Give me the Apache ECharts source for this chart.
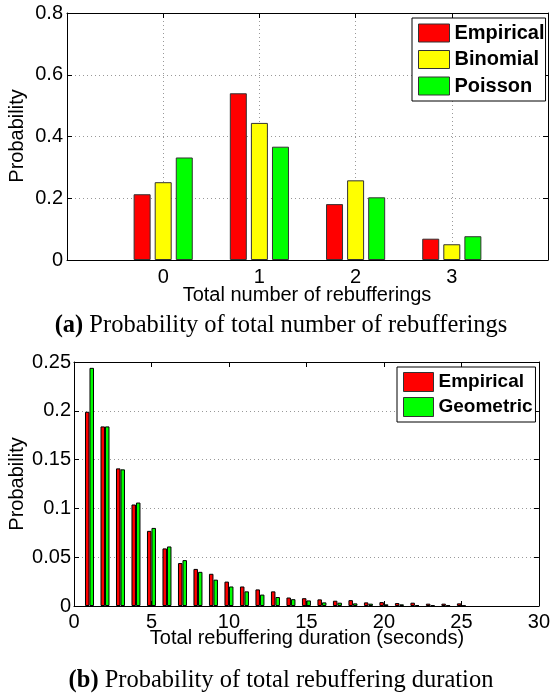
<!DOCTYPE html>
<html>
<head>
<meta charset="utf-8">
<script src="https://cdn.jsdelivr.net/npm/echarts@6/dist/echarts.min.js"></script>
<style>
  html, body { margin: 0; padding: 0; background: #fff; }
  #chart { width: 553px; height: 694px; }
</style>
</head>
<body>
<div id="chart"></div>
<script>
// (a) number of rebufferings
const rebufCounts = [0, 1, 2, 3];
const empiricalCount = [0.213, 0.540, 0.181, 0.069];
const binomialCount = [0.252, 0.444, 0.258, 0.051];
const poissonCount = [0.332, 0.367, 0.203, 0.077];

// (b) rebuffering duration (seconds)
const durSeconds = [1, 2, 3, 4, 5, 6, 7, 8, 9, 10, 11, 12, 13, 14, 15, 16, 17, 18, 19, 20, 21, 22, 23, 24, 25];
const empiricalDur = [0.199, 0.184, 0.141, 0.104, 0.077, 0.059, 0.044, 0.038, 0.033, 0.025, 0.020, 0.017, 0.015,
  0.0087, 0.008, 0.0068, 0.0054, 0.006, 0.0037, 0.004, 0.003, 0.0034, 0.0024, 0.0024, 0.0027];
const geometricDur = [0.244, 0.184, 0.140, 0.106, 0.080, 0.061, 0.047, 0.035, 0.027, 0.020, 0.015, 0.0117, 0.0092,
  0.007, 0.0057, 0.0037, 0.0034, 0.0027, 0.0024, 0.0017, 0.0017, 0.001, 0.0007, 0.0007, 0.0005];

const SANS = "'Liberation Sans', Arial, sans-serif";
const SERIF = "'Liberation Serif', 'Times New Roman', serif";
const RED = '#ff0000', YELLOW = '#ffff00', GREEN = '#00ff00';

const chart = echarts.init(document.getElementById('chart'), null, { renderer: 'canvas' });

const dotted = { color: '#999', width: 1, type: [1, 3] };
const box = { show: true, onZero: false, lineStyle: { color: '#000', width: 1 } };
const tickIn = { show: true, inside: true, length: 5, lineStyle: { color: '#000' } };
const tickLabel = { color: '#000', fontFamily: SANS, fontSize: 20 };

const pairs = (xs, ys) => xs.map((x, i) => [x, ys[i]]);

const option = {
  backgroundColor: '#fff',
  animation: false,
  grid: [
    { left: 67, top: 13, width: 481, height: 247, containLabel: false },
    { left: 74, top: 362, width: 466, height: 244, containLabel: false },
  ],
  xAxis: [
    {
      gridIndex: 0, type: 'value', min: -1, max: 4, interval: 1,
      axisLine: box, axisTick: tickIn,
      axisLabel: Object.assign({ margin: 7, formatter: v => (v < 0 || v > 3 ? '' : String(v)) }, tickLabel),
      splitLine: { show: true, lineStyle: dotted },
    },
    {
      gridIndex: 0, type: 'value', position: 'top', min: -1, max: 4, interval: 1,
      axisLine: box, axisTick: tickIn, axisLabel: { show: false }, splitLine: { show: false },
    },
    {
      gridIndex: 1, type: 'value', min: 0, max: 30, interval: 5,
      axisLine: box, axisTick: tickIn,
      axisLabel: Object.assign({ margin: 6 }, tickLabel),
      splitLine: { show: false },
    },
    {
      gridIndex: 1, type: 'value', position: 'top', min: 0, max: 30, interval: 5,
      axisLine: box, axisTick: tickIn, axisLabel: { show: false }, splitLine: { show: false },
    },
  ],
  yAxis: [
    {
      gridIndex: 0, type: 'value', min: 0, max: 0.8, interval: 0.2,
      axisLine: box, axisTick: tickIn,
      axisLabel: Object.assign({ margin: 4 }, tickLabel),
      splitLine: { show: true, lineStyle: dotted },
    },
    {
      gridIndex: 0, type: 'value', position: 'right', min: 0, max: 0.8, interval: 0.2,
      axisLine: box, axisTick: tickIn, axisLabel: { show: false }, splitLine: { show: false },
    },
    {
      gridIndex: 1, type: 'value', min: 0, max: 0.25, interval: 0.05,
      axisLine: box, axisTick: tickIn,
      axisLabel: Object.assign({ margin: 3 }, tickLabel),
      splitLine: { show: true, lineStyle: dotted },
    },
    {
      gridIndex: 1, type: 'value', position: 'right', min: 0, max: 0.25, interval: 0.05,
      axisLine: box, axisTick: tickIn, axisLabel: { show: false }, splitLine: { show: false },
    },
  ],
  legend: [
    {
      data: ['Empirical', 'Binomial', 'Poisson'],
      orient: 'vertical', left: 412, top: 18,
      padding: [5, 1, 5, 6], itemGap: 6.5, itemWidth: 31, itemHeight: 18,
      icon: 'rect', backgroundColor: '#fff', borderColor: '#000', borderWidth: 1, borderRadius: 0,
      itemStyle: { borderColor: '#333', borderWidth: 1 },
      textStyle: { color: '#000', fontFamily: SANS, fontSize: 20, fontWeight: 'bold', lineHeight: 18 },
      selectedMode: false,
    },
    {
      data: ['Empirical', 'Geometric'],
      orient: 'vertical', left: 397, top: 367,
      padding: [5, 3, 5, 6], itemGap: 5, itemWidth: 30, itemHeight: 19,
      icon: 'rect', backgroundColor: '#fff', borderColor: '#000', borderWidth: 1, borderRadius: 0,
      itemStyle: { borderColor: '#333', borderWidth: 1 },
      textStyle: { color: '#000', fontFamily: SANS, fontSize: 19, fontWeight: 'bold', lineHeight: 19 },
      selectedMode: false,
    },
  ],
  series: [
    {
      name: 'Empirical', type: 'bar', xAxisIndex: 0, yAxisIndex: 0,
      barWidth: 17, barGap: '24%',
      itemStyle: { color: RED, borderColor: '#333', borderWidth: 1 },
      data: pairs(rebufCounts, empiricalCount),
    },
    {
      name: 'Binomial', type: 'bar', xAxisIndex: 0, yAxisIndex: 0,
      barWidth: 17, barGap: '24%',
      itemStyle: { color: YELLOW, borderColor: '#333', borderWidth: 1 },
      data: pairs(rebufCounts, binomialCount),
    },
    {
      name: 'Poisson', type: 'bar', xAxisIndex: 0, yAxisIndex: 0,
      barWidth: 17, barGap: '24%',
      itemStyle: { color: GREEN, borderColor: '#333', borderWidth: 1 },
      data: pairs(rebufCounts, poissonCount),
    },
    {
      name: 'Empirical', type: 'bar', xAxisIndex: 2, yAxisIndex: 2,
      barWidth: 4.5, barGap: '0%',
      itemStyle: { color: RED, borderColor: '#000', borderWidth: 1 },
      data: pairs(durSeconds, empiricalDur),
    },
    {
      name: 'Geometric', type: 'bar', xAxisIndex: 2, yAxisIndex: 2,
      barWidth: 4.5, barGap: '0%',
      itemStyle: { color: GREEN, borderColor: '#000', borderWidth: 1 },
      data: pairs(durSeconds, geometricDur),
    },
  ],
  graphic: [
    // axis titles
    {
      type: 'text', x: 17, y: 136, rotation: Math.PI / 2,
      style: { text: 'Probability', font: '20px ' + SANS, fill: '#000', align: 'center', verticalAlign: 'middle' },
    },
    {
      type: 'text', x: 307, y: 295,
      style: { text: 'Total number of rebufferings', font: '20px ' + SANS, fill: '#000', align: 'center', verticalAlign: 'middle' },
    },
    {
      type: 'text', x: 17, y: 484, rotation: Math.PI / 2,
      style: { text: 'Probability', font: '20px ' + SANS, fill: '#000', align: 'center', verticalAlign: 'middle' },
    },
    {
      type: 'text', x: 307, y: 638,
      style: { text: 'Total rebuffering duration (seconds)', font: '20px ' + SANS, fill: '#000', align: 'center', verticalAlign: 'middle' },
    },
    // captions
    {
      type: 'text', x: 281, y: 326,
      style: {
        text: '{b|(a)} Probability of total number of rebufferings',
        font: '24.5px ' + SERIF, fill: '#000', align: 'center', verticalAlign: 'middle',
        rich: { b: { fontFamily: SERIF, fontSize: 24.5, fontWeight: 'bold', fill: '#000' } },
      },
    },
    {
      type: 'text', x: 281, y: 681,
      style: {
        text: '{b|(b)} Probability of total rebuffering duration',
        font: '24.5px ' + SERIF, fill: '#000', align: 'center', verticalAlign: 'middle',
        rich: { b: { fontFamily: SERIF, fontSize: 24.5, fontWeight: 'bold', fill: '#000' } },
      },
    },
  ],
};

chart.setOption(option);
</script>
</body>
</html>
